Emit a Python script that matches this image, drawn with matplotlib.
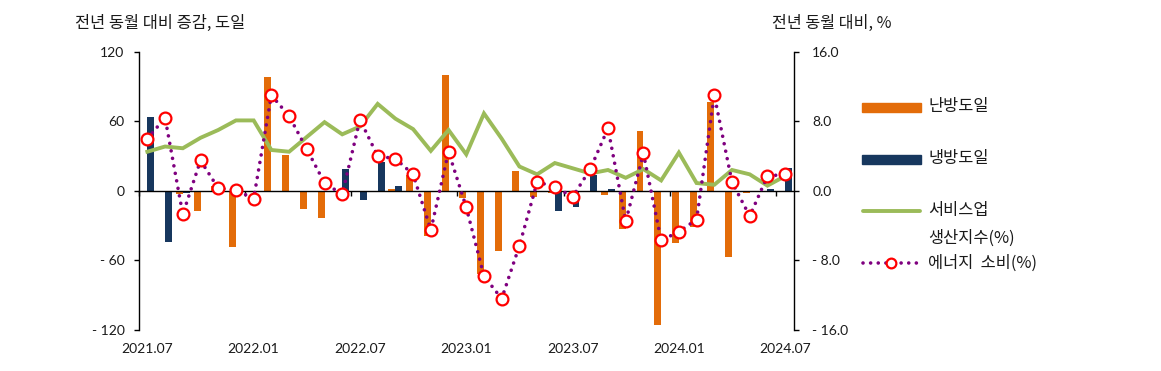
import numpy as np
import matplotlib
matplotlib.use('Agg')
import matplotlib.pyplot as plt
from matplotlib.lines import Line2D
from matplotlib.patches import Rectangle

plt.rcParams['font.family'] = ['Noto Sans CJK KR', 'DejaVu Sans']

# --- データ (2021.07 ~ 2024.07, 月次) ---
months = ['2021.07', '2021.08', '2021.09', '2021.10', '2021.11', '2021.12',
          '2022.01', '2022.02', '2022.03', '2022.04', '2022.05', '2022.06',
          '2022.07', '2022.08', '2022.09', '2022.10', '2022.11', '2022.12',
          '2023.01', '2023.02', '2023.03', '2023.04', '2023.05', '2023.06',
          '2023.07', '2023.08', '2023.09', '2023.10', '2023.11', '2023.12',
          '2024.01', '2024.02', '2024.03', '2024.04', '2024.05', '2024.06',
          '2024.07']

# 난방도일 (전년 동월 대비 증감, 도일)
heating = [0, 0, -3, -17, 4, -48, 0, 98, 31, -16, -23, 0,
           0, 0, 2, 14, -39, 100, -6, -72, -52, 17, -5, -2,
           0, 0, -4, -33, 52, -116, -45, -31, 77, -57, -2, 0,
           0]
# 냉방도일
cooling = [64, -44, -2, 0, 0, 0, 0, 0, 0, 0, 0, 19,
           -8, 25, 4, 0, 0, 0, 0, 0, 0, 0, 0, -17,
           -14, 14, 2, 0, 0, 0, 0, 0, 0, 0, 0, 2,
           20]
# 서비스업 생산지수 (%)
services = [4.5, 5.1, 4.9, 6.1, 7.0, 8.1, 8.1, 4.7, 4.5, 6.2, 7.9, 6.5,
            7.4, 10.0, 8.3, 7.1, 4.6, 7.0, 4.2, 8.9, 6.0, 2.8, 1.9, 3.2,
            2.6, 2.0, 2.4, 1.5, 2.5, 1.2, 4.4, 0.9, 0.7, 2.4, 1.9, 0.6,
            1.7]
# 에너지 소비 (%)
energy = [6.0, 8.4, -2.7, 3.5, 0.3, 0.1, -0.9, 11.0, 8.6, 4.8, 0.9, -0.4,
          8.2, 4.0, 3.7, 1.9, -4.5, 4.5, -1.9, -9.8, -12.4, -6.3, 1.0, 0.5,
          -0.7, 2.5, 7.2, -3.5, 4.3, -5.7, -4.7, -3.3, 11.0, 1.0, -2.9, 1.7,
          1.9]

left_ticks = [-120, -60, 0, 60, 120]
right_ticks = [-16, -8, 0, 8, 16]

C_HEAT = '#E36C09'
C_COOL = '#17375E'
C_SERV = '#9BBB59'
C_ENER = '#7F007F'
C_TEXT = '#1a1a1a'
NUM_FONT = ['Lato', 'DejaVu Sans']

fig = plt.figure(figsize=(11.61, 3.71), dpi=100)
ax = fig.add_axes([0.1193, 0.1105, 0.5646, 0.7501])
ax2 = ax.twinx()

x = np.arange(len(months))
w = 0.39
ax.bar(x - w / 2, heating, width=w, color=C_HEAT, zorder=2)
ax.bar(x + w / 2, cooling, width=w, color=C_COOL, zorder=2)

ax2.plot(x, services, color=C_SERV, lw=2.8, zorder=3, solid_joinstyle='miter')
ax2.plot(x, energy, color=C_ENER, lw=2.6, linestyle=(0, (0.01, 2.1)),
         dash_capstyle='round', zorder=4)
ax2.plot(x, energy, linestyle='none', marker='o', ms=8.5, mfc='white',
         mec='#FF0000', mew=1.6, zorder=5)

# 軸設定
ax.set_xlim(-0.5, len(months) - 0.5)
ax.set_ylim(-120, 120)
ax2.set_ylim(-16, 16)

ax.spines['top'].set_visible(False)
ax2.spines['top'].set_visible(False)
ax.spines['right'].set_visible(False)
ax2.spines['bottom'].set_visible(False)
ax2.spines['left'].set_visible(False)
ax.spines['bottom'].set_position(('data', 0))
for s in ['left', 'bottom']:
    ax.spines[s].set_linewidth(1.0)
ax2.spines['right'].set_linewidth(1.0)

def fmt_num(v, dec):
    s = f'{abs(v):.{dec}f}'
    return '- ' + s if v < 0 else s

ax.set_yticks(left_ticks)
ax.set_yticklabels([fmt_num(v, 0) for v in left_ticks], family=NUM_FONT,
                   fontsize=10, color=C_TEXT)
ax2.set_yticks(right_ticks)
ax2.set_yticklabels([fmt_num(v, 1) for v in right_ticks], family=NUM_FONT,
                    fontsize=10, color=C_TEXT)
ax.tick_params(axis='y', direction='out', length=3.6, width=1.0, pad=6.5)
ax2.tick_params(axis='y', direction='out', length=3.6, width=1.0, pad=9.5)

# x軸: 境界の目盛り (6か月ごと) + 下部のラベル
ax.set_xticks([])
ax.set_xticks(np.arange(-0.5, len(months), 6), minor=True)
ax.tick_params(axis='x', which='minor', direction='out', length=3.5, width=1.0)

sec = ax.secondary_xaxis(0)
sec.set_xticks(x[::6])
sec.set_xticklabels(months[::6], family=NUM_FONT, fontsize=10, color=C_TEXT)
sec.tick_params(length=0, pad=9)
sec.spines['bottom'].set_visible(False)

# 軸タイトル
fig.text(75 / 1161, 1 - 23 / 371, '전년 동월 대비 증감, 도일', fontsize=11.8,
         color=C_TEXT, va='center', ha='left')
fig.text(772 / 1161, 1 - 23 / 371, '전년 동월 대비, %', fontsize=11.6,
         color=C_TEXT, va='center', ha='left')

# 凡例 (手動配置)
def fx(px):
    return px / 1161

def fy(py):
    return 1 - py / 371

fig.add_artist(Rectangle((fx(862), fy(112)), fx(921) - fx(862), 9 / 371,
                         transform=fig.transFigure, color=C_HEAT))
fig.add_artist(Rectangle((fx(862), fy(164)), fx(921) - fx(862), 9 / 371,
                         transform=fig.transFigure, color=C_COOL))
fig.add_artist(Line2D([fx(863), fx(920)], [fy(211), fy(211)],
                      transform=fig.transFigure, color=C_SERV, lw=2.8,
                      solid_capstyle='round'))
fig.add_artist(Line2D([fx(863), fx(920)], [fy(263), fy(263)],
                      transform=fig.transFigure, color=C_ENER, lw=2.6,
                      linestyle=(0, (0.01, 2.1)), dash_capstyle='round'))
fig.add_artist(Line2D([fx(891)], [fy(263)], transform=fig.transFigure,
                      linestyle='none', marker='o', ms=7, mfc='white',
                      mec='#FF0000', mew=1.6))

leg_texts = [('난방도일', 107), ('냉방도일', 159), ('서비스업', 211),
             ('생산지수(%)', 238), ('에너지  소비(%)', 263)]
for t, py in leg_texts:
    fig.text(fx(928), fy(py), t, fontsize=11.8, color=C_TEXT,
             va='center', ha='left')

fig.savefig('out.png', dpi=100)
